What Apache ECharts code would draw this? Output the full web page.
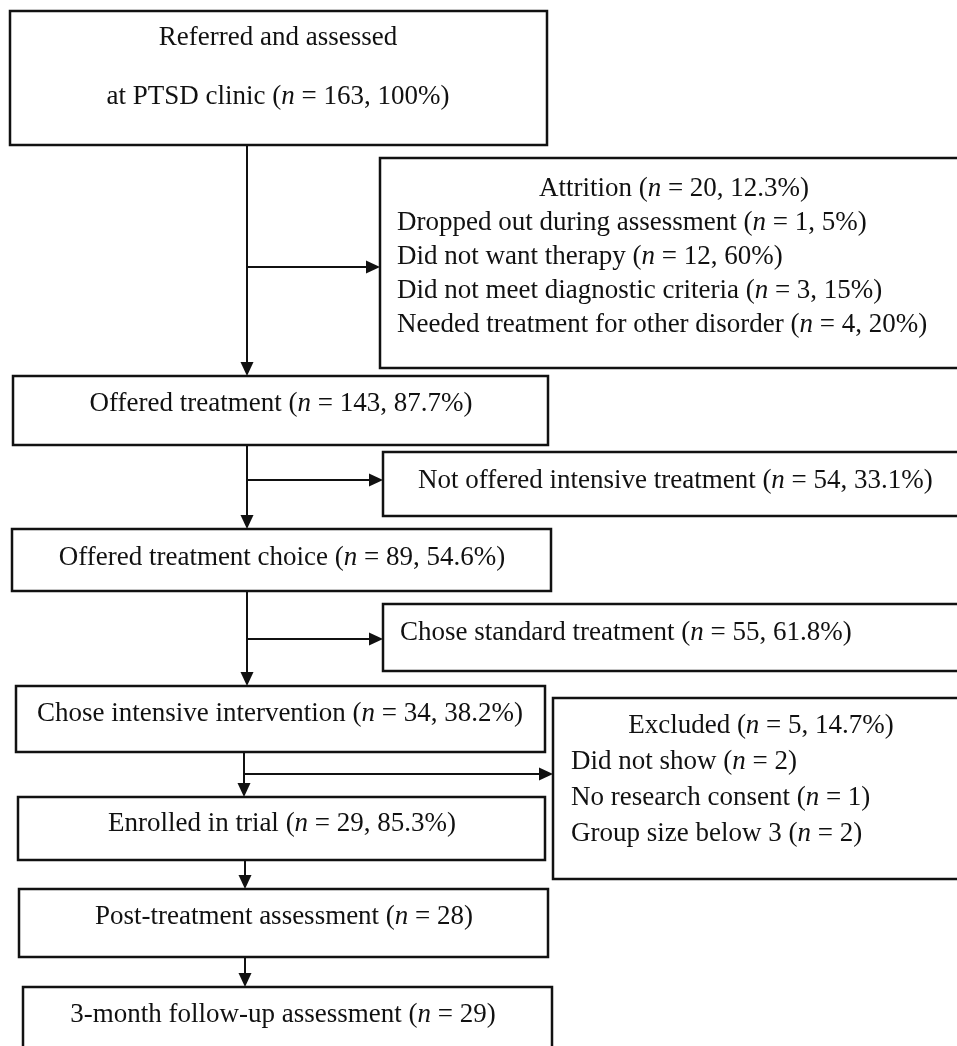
<!DOCTYPE html>
<html>
<head>
<meta charset="utf-8">
<script src="https://cdn.jsdelivr.net/npm/echarts@6/dist/echarts.min.js"></script>
<style>
  html, body { margin: 0; padding: 0; background: #fff; }
  #chart { width: 957px; height: 1046px; }
</style>
</head>
<body>
<div id="chart"></div>
<script>
// ---------- DATA ----------
const mainSteps = ['Referred and assessed', 'Offered treatment', 'Offered treatment choice',
  'Chose intensive intervention', 'Enrolled in trial', 'Post-treatment assessment', '3-month follow-up assessment'];
const mainN = [163, 143, 89, 34, 29, 28, 29];
const mainPct = ['100%', '87.7%', '54.6%', '38.2%', '85.3%', null, null];

const sideTitles = ['Attrition', 'Not offered intensive treatment', 'Chose standard treatment', 'Excluded'];
const sideN = [20, 54, 55, 5];
const sidePct = ['12.3%', '33.1%', '61.8%', '14.7%'];

const attritionReasons = ['Dropped out during assessment', 'Did not want therapy',
  'Did not meet diagnostic criteria', 'Needed treatment for other disorder'];
const attritionN = [1, 12, 3, 4];
const attritionPct = ['5%', '60%', '15%', '20%'];

const excludedReasons = ['Did not show', 'No research consent', 'Group size below 3'];
const excludedN = [2, 1, 2];

// ---------- LAYOUT (pixel space of a hidden 957 x 1046 value grid) ----------
const W = 957, H = 1046;
const FONT = '27px "Liberation Serif", "Times New Roman", serif';

function lab(text, n, pct) {
  return '{r|' + text + ' (}{i|n}{r| = ' + n + (pct ? ', ' + pct : '') + ')}';
}

// box rectangles [x0, y0, x1, y1]
const boxRects = [
  [10, 11, 547, 145],
  [13, 376, 548, 445],
  [12, 529, 551, 591],
  [16, 686, 545, 752],
  [18, 797, 545, 860],
  [19, 889, 548, 957],
  [23, 987, 552, 1070],
  [380, 158, 970, 368],
  [383, 452, 970, 516],
  [383, 604, 970, 671],
  [553, 698, 970, 879]
];

// text lines per box: [x, y, align]
const boxLinePos = [
  [[278, 38, 'center'], [278, 97, 'center']],
  [[281, 404, 'center']],
  [[282, 558, 'center']],
  [[280, 714, 'center']],
  [[282, 824, 'center']],
  [[284, 917, 'center']],
  [[283, 1015, 'center']],
  [[674, 189, 'center'], [397, 223, 'left'], [397, 257, 'left'], [397, 291, 'left'], [397, 325, 'left']],
  [[418, 481, 'left']],
  [[400, 633, 'left']],
  [[761, 726, 'center'], [571, 762, 'left'], [571, 798, 'left'], [571, 834, 'left']]
];

// text content per box built from the data arrays
const boxTexts = [
  ['{r|' + mainSteps[0] + '}', '{r|at PTSD clinic (}{i|n}{r| = ' + mainN[0] + ', ' + mainPct[0] + ')}'],
  [lab(mainSteps[1], mainN[1], mainPct[1])],
  [lab(mainSteps[2], mainN[2], mainPct[2])],
  [lab(mainSteps[3], mainN[3], mainPct[3])],
  [lab(mainSteps[4], mainN[4], mainPct[4])],
  [lab(mainSteps[5], mainN[5], mainPct[5])],
  [lab(mainSteps[6], mainN[6], mainPct[6])],
  [lab(sideTitles[0], sideN[0], sidePct[0])].concat(
    attritionReasons.map((r, k) => lab(r, attritionN[k], attritionPct[k]))),
  [lab(sideTitles[1], sideN[1], sidePct[1])],
  [lab(sideTitles[2], sideN[2], sidePct[2])],
  [lab(sideTitles[3], sideN[3], sidePct[3])].concat(
    excludedReasons.map((r, k) => lab(r, excludedN[k], null)))
];

// connectors [x0, y0, x1, y1] with arrow head at (x1, y1)
const connectors = [
  [247, 145, 247, 376],
  [247, 267, 380, 267],
  [247, 445, 247, 529],
  [247, 480, 383, 480],
  [247, 591, 247, 686],
  [247, 639, 383, 639],
  [244, 752, 244, 797],
  [244, 774, 553, 774],
  [245, 860, 245, 889],
  [245, 957, 245, 987]
];

const richStyles = {
  r: { font: FONT, fill: '#111' },
  i: { font: 'italic ' + FONT, fill: '#111' }
};

function renderBox(params, api) {
  const idx = api.value(0);
  const b = boxRects[idx];
  const p0 = api.coord([b[0], b[1]]);
  const p1 = api.coord([b[2], b[3]]);
  const children = [{
    type: 'rect',
    shape: { x: p0[0], y: p0[1], width: p1[0] - p0[0], height: p1[1] - p0[1] },
    style: { fill: '#fff', stroke: '#111', lineWidth: 2.5 }
  }];
  boxTexts[idx].forEach((t, k) => {
    const pos = boxLinePos[idx][k];
    const p = api.coord([pos[0], pos[1]]);
    children.push({
      type: 'text',
      style: {
        text: t, x: p[0], y: p[1], align: pos[2], verticalAlign: 'middle',
        font: FONT, fill: '#111', rich: richStyles
      }
    });
  });
  return { type: 'group', children: children };
}

function renderConnector(params, api) {
  const c = connectors[api.value(0)];
  const a = api.coord([c[0], c[1]]);
  const b = api.coord([c[2], c[3]]);
  const len = 14, hw = 6.5;
  const dx = b[0] - a[0], dy = b[1] - a[1];
  const d = Math.sqrt(dx * dx + dy * dy);
  const ux = dx / d, uy = dy / d;
  const base = [b[0] - ux * len, b[1] - uy * len];
  return {
    type: 'group',
    children: [
      { type: 'line', shape: { x1: a[0], y1: a[1], x2: base[0], y2: base[1] },
        style: { stroke: '#111', lineWidth: 2 } },
      { type: 'polygon', shape: { points: [
          [b[0], b[1]],
          [base[0] - uy * hw, base[1] + ux * hw],
          [base[0] + uy * hw, base[1] - ux * hw]
        ] }, style: { fill: '#111' } }
    ]
  };
}

const chart = echarts.init(document.getElementById('chart'), null, { renderer: 'canvas' });
chart.setOption({
  animation: false,
  backgroundColor: '#fff',
  grid: { left: 0, right: 0, top: 0, bottom: 0 },
  xAxis: { type: 'value', min: 0, max: W, show: false },
  yAxis: { type: 'value', min: 0, max: H, inverse: true, show: false },
  series: [
    { type: 'custom', name: 'connectors', clip: false, silent: true,
      data: connectors.map((c, i) => [i]), encode: { x: 0 }, renderItem: renderConnector },
    { type: 'custom', name: 'boxes', clip: false, silent: true,
      data: boxRects.map((b, i) => [i]), encode: { x: 0 }, renderItem: renderBox }
  ]
});
</script>
</body>
</html>
